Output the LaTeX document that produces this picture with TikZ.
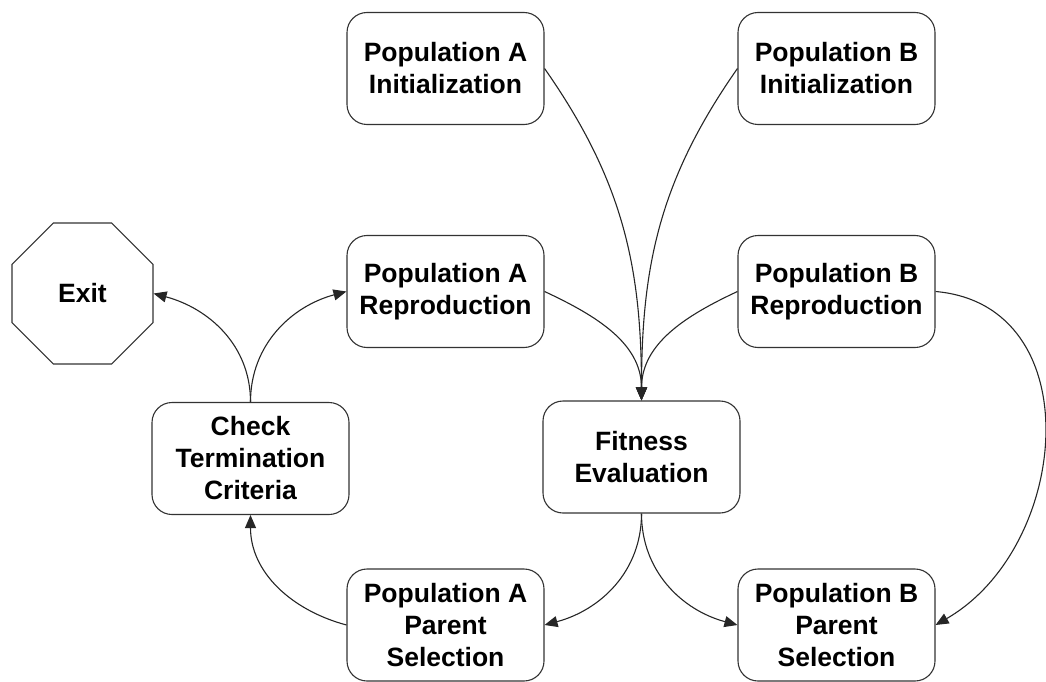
\documentclass[tikz,border=0pt]{standalone}
\usepackage{fontspec}
\setmainfont{Liberation Sans}
\usetikzlibrary{arrows.meta,shapes.geometric}
\begin{document}
\begin{tikzpicture}[x=1pt,y=1pt,
  box/.style={draw=black!80, line width=1.1pt, rounded corners=20pt, minimum width=197pt, minimum height=112pt, align=center, inner sep=0pt, font=\bfseries\fontsize{26.5}{32}\selectfont},
  oct/.style={draw=black!80, line width=1.1pt, regular polygon, regular polygon sides=8, minimum size=152.6pt, inner sep=0pt, font=\bfseries\fontsize{26.5}{32}\selectfont},
  conn/.style={draw=black!85, line width=1.1pt, -{Triangle[length=13pt,width=11pt]}}]
\useasboundingbox (0,0) rectangle (1046,-682);
\node[box] (initA) at (445.5,-68.5) {Population A\\Initialization};
\node[box] (initB) at (836.5,-68.5) {Population B\\Initialization};
\node[box] (reproA) at (445.5,-291.5) {Population A\\Reproduction};
\node[box] (reproB) at (836.5,-291.5) {Population B\\Reproduction};
\node[box] (check) at (250.5,-458.5) {Check\\Termination\\Criteria};
\node[box] (fit) at (641.5,-457) {Fitness\\Evaluation};
\node[box] (parA) at (445.5,-625) {Population A\\Parent\\Selection};
\node[box] (parB) at (836.5,-625) {Population B\\Parent\\Selection};
\node[oct] (exit) at (82.5,-293.5) {Exit};
\draw[conn] (initA.east) to[out=-55,in=90] (fit.north);
\draw[conn] (initB.west) to[out=-125,in=90] (fit.north);
\draw[conn] (reproA.east) to[out=-25,in=90] (fit.north);
\draw[conn] (reproB.west) to[out=-155,in=90] (fit.north);
\draw[conn] (reproB.east) to[out=-5,in=30,looseness=1.2] (parB.east);
\draw[conn] (fit.south) to[out=-90,in=15] (parA.east);
\draw[conn] (fit.south) to[out=-90,in=165] (parB.west);
\draw[conn] (parA.west) to[out=165,in=-90] (check.south);
\draw[conn] (check.north) to[out=90,in=-15] (exit.east);
\draw[conn] (check.north) to[out=90,in=195] (reproA.west);
\end{tikzpicture}
\end{document}
